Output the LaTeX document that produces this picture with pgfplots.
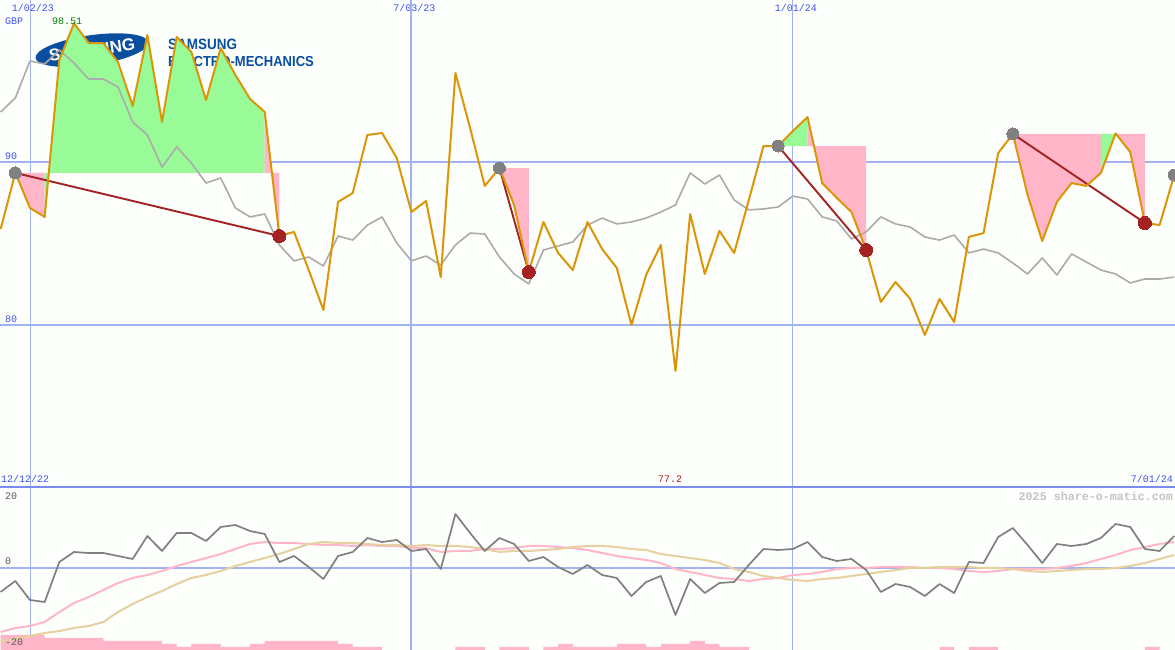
\documentclass[border=0pt]{standalone}
\usepackage{pgfplots}
\usepackage{pgfplotstable}
\usepackage{fontspec}
\pgfplotsset{compat=1.18}
\setmainfont{Liberation Mono}
\newfontfamily\logofont{Liberation Sans}
\definecolor{bgc}{HTML}{FCFFFB}
\definecolor{gridc}{HTML}{A3B2F0}
\definecolor{panelc}{HTML}{7B8CF0}
\definecolor{bluetxt}{HTML}{4050F0}
\definecolor{oline}{HTML}{DB9608}
\definecolor{gline}{HTML}{ABABA8}
\definecolor{mgray}{HTML}{808080}
\definecolor{dred}{HTML}{A52222}
\definecolor{pinkf}{HTML}{FFB6C8}
\definecolor{greenf}{HTML}{98FB98}
\definecolor{tanl}{HTML}{E6D0A0}
\definecolor{logob}{HTML}{0A4EA0}
\definecolor{wm}{HTML}{C4C4C4}
\definecolor{dgtxt}{HTML}{555555}
\pgfplotstableread{
k close avg
-2 85.89 93.07
-1 89.33 93.93
0 87.18 96.20
1 86.63 96.01
2 96.26 96.87
3 98.51 96.07
4 97.30 95.09
5 97.30 95.09
6 96.13 94.60
7 93.44 92.45
8 97.79 91.66
9 92.45 89.69
10 97.67 90.92
11 96.75 89.94
12 93.80 88.71
13 96.99 89.02
14 95.34 87.18
15 93.87 86.63
16 93.07 86.81
17 85.46 84.91
18 85.71 83.93
19 83.37 84.17
20 80.92 83.62
21 87.55 85.46
22 88.10 85.21
23 91.66 86.13
24 91.78 86.63
25 90.25 85.03
26 86.93 83.93
27 87.61 84.23
28 82.94 83.68
29 95.46 84.91
30 92.09 85.64
31 88.53 85.58
32 89.63 84.17
33 87.36 83.13
34 83.25 82.52
35 86.32 84.60
36 84.42 84.85
37 83.37 85.09
38 86.32 86.13
39 84.66 86.56
40 83.50 86.20
41 80.00 86.32
42 83.07 86.56
43 84.91 86.93
44 77.18 87.36
45 86.81 89.33
46 83.13 88.65
47 85.77 89.20
48 84.42 87.67
49 87.67 87.06
50 90.98 87.12
51 90.98 87.24
52 91.90 87.91
53 92.76 87.73
54 88.71 86.63
55 87.79 86.38
56 86.93 85.28
57 84.60 85.71
58 81.41 86.63
59 82.64 86.20
60 81.60 86.01
61 79.39 85.40
62 81.60 85.21
63 80.18 85.52
64 85.40 84.42
65 85.64 84.66
66 90.55 84.42
67 91.72 83.80
68 87.98 83.13
69 85.15 84.11
70 87.55 83.07
71 88.71 84.36
72 88.53 83.87
73 89.33 83.37
74 91.75 83.13
75 90.61 82.58
76 86.26 82.82
77 86.13 82.82
78 89.20 82.94
}\uppertab
\pgfplotstableread{
k macd signal slow
-2 -6 -16 -18.25
-1 -3.25 -15 -17.75
0 -8 -14.5 -17
1 -8.5 -13.5 -16.25
2 1.5 -11 -15.75
3 4 -8.75 -15
4 3.75 -7.25 -14.5
5 3.75 -5.5 -13.5
6 3 -3.75 -11
7 2.25 -2.5 -9
8 8 -1.75 -7.25
9 4.25 -0.75 -5.75
10 8.75 0.5 -4
11 8.75 1.5 -2.5
12 6.75 2.5 -1.75
13 10.25 3.5 -0.75
14 10.75 4.75 0.5
15 9.25 6 1.5
16 8.5 6.5 2.5
17 1.5 6.25 3.5
18 3 6.25 4.75
19 0.25 6 6
20 -2.75 5.75 6.5
21 3 5.75 6.25
22 4 5.5 6.25
23 7.5 5.75 6
24 6.5 5.5 5.75
25 7 5.5 5.75
26 4.25 5 5.5
27 4.75 5 5.75
28 -0.25 4 5.5
29 13.5 4.25 5.5
30 8.75 4.25 5.25
31 4.25 4.75 4.75
32 7.5 4.75 4
33 6 5 4.25
34 1.75 5.5 4.25
35 2.75 5.5 4.5
36 0.25 5.25 4.75
37 -1.5 5 5.25
38 0.75 4.5 5.5
39 -1.75 3.75 5.5
40 -2.5 3 5.25
41 -7 2.5 4.75
42 -3.5 2 4.5
43 -2 1.25 3.5
44 -11.75 -0.25 3
45 -2.75 -1 2.5
46 -6.25 -1.75 2
47 -3.75 -2.5 1.25
48 -3.5 -2.75 -0.25
49 0.75 -3.25 -1
50 4.75 -2.75 -2
51 4.5 -2.5 -2.5
52 4.75 -1.75 -3
53 6.5 -1.5 -3.25
54 2.75 -1 -2.75
55 1.75 -0.25 -2.5
56 2.25 0 -2
57 -0.5 0 -1.5
58 -6 0.25 -1
59 -4 0.25 -0.5
60 -4.75 0.25 0
61 -7 0 0
62 -4 0 0.25
63 -6.25 -0.25 0.25
64 1.5 -0.75 0.25
65 1.25 -1 0
66 7.75 -0.75 0
67 10 -0.25 -0.25
68 5.75 -0.25 -0.75
69 1.25 -0.25 -1
70 6 0 -0.75
71 5.5 0.5 -0.5
72 6 1.25 -0.25
73 7.5 2.25 -0.25
74 11 3.25 0
75 10.25 4.5 0.5
76 4.75 5.25 1.25
77 4.25 6 2.25
78 8 6.5 3.25
}\lowertab
\pgfplotstableread{
k v
-2 5
-1 5
0 5
1 4
2 4
3 4
4 4
5 3
6 3
7 3
8 3
9 2
10 1
11 2
12 2
13 1
14 1
15 2
16 3
17 3
18 3
19 3
20 3
21 2
22 1
23 1
29 1
30 1
32 1
33 1
35 1
36 2
37 1
38 1
39 1
40 2
41 2
42 1
43 2
44 2
45 3
46 2
47 1
48 1
62 1
64 1
65 1
76 1
}\histtab
\pgfplotsset{panel/.style={
  scale only axis, width=1175pt,
  xmin=-2.045, xmax=78.05,
  tick style={draw=none}, major tick length=0pt,
  axis line style={draw=none},
  grid style={color=gridc, line width=1pt}
}}
\begin{document}
\begin{tikzpicture}
% upper panel
\begin{axis}[panel, name=up, at={(0pt,163pt)}, anchor=south west, height=487pt,
  ymin=70.06, ymax=99.94,
  axis background/.style={fill=bgc},
  xmajorgrids,
  xtick={0,26,52}, xticklabels={1/02/23,7/03/23,1/01/24},
  extra x ticks={26}, extra x tick labels={},
  extra x tick style={grid style={color=gridc, line width=2pt}},
  xticklabel pos=upper,
  xticklabel style={font=\fontsize{10}{10}\selectfont, text=bluetxt, anchor=center, xshift=3pt, yshift=-8pt, inner sep=0pt},
  ytick={80,90}, yticklabels={80,90},
  yticklabel style={font=\fontsize{10}{10}\selectfont, text=bluetxt, anchor=south west, xshift=5pt, yshift=2.5pt, inner sep=0pt},
  ymajorgrids, 
  y grid style={color=gridc, line width=2pt}
]
% logo behind the data
\fill[logob, rotate around={8:(rel axis cs:0.0783,0.897)}] (rel axis cs:0.0783,0.897) ellipse [x radius=57pt, y radius=15pt];
\node[text=white, font=\logofont\bfseries\fontsize{17}{17}\selectfont, inner sep=0pt, rotate=8] at (rel axis cs:0.0783,0.897) {SAMSUNG};
\node[text=logob, font=\logofont\bfseries\fontsize{15}{15}\selectfont, inner sep=0pt, anchor=west, xscale=0.9] at (rel axis cs:0.143,0.9097) {SAMSUNG};
\node[text=logob, font=\logofont\bfseries\fontsize{14.5}{14.5}\selectfont, inner sep=0pt, anchor=west, xscale=0.9] at (rel axis cs:0.143,0.8727) {ELECTRO-MECHANICS};
% profit and loss areas
\addplot[fill=pinkf, draw=none] coordinates {(-1,89.33)(0,87.18)(1,86.63)(1,89.33)};
\addplot[fill=greenf, draw=none] coordinates {(1,86.63)(2,96.26)(3,98.51)(4,97.30)(5,97.30)(6,96.13)(7,93.44)(8,97.79)(9,92.45)(10,97.67)(11,96.75)(12,93.80)(13,96.99)(14,95.34)(15,93.87)(16,93.07)(16,89.33)(1,89.33)};
\addplot[fill=pinkf, draw=none] coordinates {(16,93.07)(17,85.46)(17,89.33)(16,89.33)};
\addplot[fill=pinkf, draw=none] coordinates {(32,89.63)(33,87.36)(34,83.25)(34,89.63)};
\addplot[fill=greenf, draw=none] coordinates {(51,90.98)(52,91.90)(53,92.76)(53,90.98)};
\addplot[fill=pinkf, draw=none] coordinates {(53,92.76)(54,88.71)(54,90.98)(53,90.98)};
\addplot[fill=pinkf, draw=none] coordinates {(54,90.98)(54,88.71)(55,87.79)(56,86.93)(57,84.60)(57,90.98)};
\addplot[fill=pinkf, draw=none] coordinates {(67,91.72)(68,87.98)(69,85.15)(70,87.55)(71,88.71)(72,88.53)(73,89.33)(73,91.72)};
\addplot[fill=greenf, draw=none] coordinates {(73,89.33)(74,91.75)(74,91.72)(73,91.72)};
\addplot[fill=pinkf, draw=none] coordinates {(74,91.72)(75,90.61)(76,86.26)(76,91.72)};
% average
\addplot[gline, line width=1.6pt, line join=round] table[x=k, y=avg] {\uppertab};
% entry and exit markers
\addplot[only marks, mgray, mark=*, mark size=6pt, mark options={draw=mgray, fill=mgray, line width=0pt}] coordinates {(-1,89.33)(32,89.63)(51,90.98)(67,91.72)(78,89.20)};
\addplot[only marks, dred, mark=*, mark size=6.5pt, mark options={draw=dred, fill=dred, line width=0pt}] coordinates {(17,85.46)(34,83.25)(57,84.60)(76,86.26)};
% trades
\addplot[dred, line width=1.9pt] coordinates {(-1,89.33)(17,85.46)};
\addplot[dred, line width=1.9pt] coordinates {(32,89.63)(34,83.25)};
\addplot[dred, line width=1.9pt] coordinates {(51,90.98)(57,84.60)};
\addplot[dred, line width=1.9pt] coordinates {(67,91.72)(76,86.26)};
% close
\addplot[oline, line width=2pt, line join=round] table[x=k, y=close] {\uppertab};
\end{axis}
% lower panel: bars and background
\begin{axis}[panel, at={(0pt,0pt)}, anchor=south west, height=163pt,
  ymin=0, ymax=54.33,
  axis background/.style={fill=bgc},
  xmajorgrids, xtick={0,26,52}, xticklabels={}, ytick=\empty,
  extra x ticks={26}, extra x tick labels={},
  extra x tick style={grid style={color=gridc, line width=2pt}},
  ybar, bar width=14.67pt, bar shift=7.33pt
]
\addplot[fill=pinkf, draw=none] table[x=k, y=v] {\histtab};
\end{axis}
% lower panel: oscillator
\begin{axis}[panel, at={(0pt,0pt)}, anchor=south west, height=163pt,
  ymin=-20.5, ymax=20.25,
  xtick=\empty, ymajorgrids, ytick={0}, yticklabels={},
  y grid style={color=gridc, line width=2pt}
]
\addplot[pinkf, line width=2pt] table[x=k, y=signal] {\lowertab};
\addplot[tanl, line width=2pt] table[x=k, y=slow] {\lowertab};
\addplot[mgray, line width=1.7pt, line join=round] table[x=k, y=macd] {\lowertab};
\end{axis}
% panel divider and texts
\draw[panelc, line width=2pt] (0pt,163pt) -- (1175pt,163pt);
\begin{scope}[every node/.style={font=\fontsize{10}{10}\selectfont, inner sep=0pt}]
\node[text=bluetxt, anchor=west] at (5pt,629pt) {GBP};
\node[text=green!50!black, anchor=west] at (52pt,629pt) {98.51};
\node[text=bluetxt, anchor=west] at (1pt,171pt) {12/12/22};
\node[text=dred, anchor=center] at (670pt,171pt) {77.2};
\node[text=bluetxt, anchor=east] at (1173pt,171pt) {7/01/24};
\node[text=dgtxt, anchor=west] at (5pt,154pt) {20};
\node[text=dgtxt, anchor=west] at (5pt,89pt) {0};
\node[text=dgtxt, anchor=west] at (5pt,8pt) {-20};
\node[text=wm, anchor=east, font=\bfseries\fontsize{11.67}{12}\selectfont] at (1173pt,154pt) {2025 share-o-matic.com};
\end{scope}
\pgfresetboundingbox
\path[use as bounding box] (0pt,0pt) rectangle (1175pt,650pt);
\end{tikzpicture}
\end{document}
